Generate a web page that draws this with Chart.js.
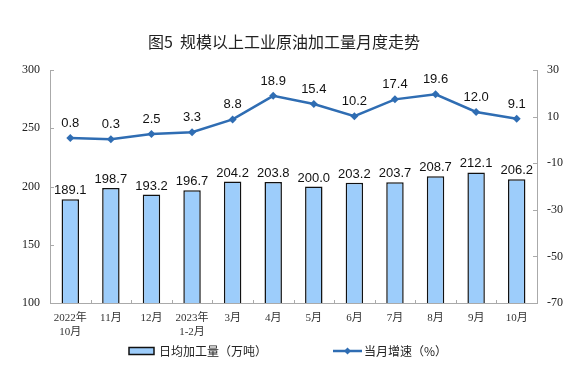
<!DOCTYPE html>
<html><head><meta charset="utf-8">
<script src="https://cdn.jsdelivr.net/npm/chart.js@4/dist/chart.umd.min.js"></script>
<style>html,body{margin:0;padding:0;background:#fff}#wrap{width:576px;height:369px}</style>
</head><body><div id="wrap"><canvas id="c"></canvas></div>
<script>
const title='图5  规模以上工业原油加工量月度走势';
const categories=[['2022年','10月'],'11月','12月',['2023年','1-2月'],'3月','4月','5月','6月','7月','8月','9月','10月'];
const output=[189.1,198.7,193.2,196.7,204.2,203.8,200.0,203.2,203.7,208.7,212.1,206.2];
const growth=[0.8,0.3,2.5,3.3,8.8,18.9,15.4,10.2,17.4,19.6,12.0,9.1];
const barName='日均加工量（万吨）';
const lineName='当月增速（%）';

const lineColor='#2f6db3';
const barFill='#9dcdfb';

const extras={
  id:'extras',
  afterDraw(chart){
    const ctx=chart.ctx, a=chart.chartArea;
    ctx.save();
    // title
    ctx.fillStyle='#222';
    ctx.font='16px "Noto Sans CJK SC", sans-serif';
    ctx.textAlign='center'; ctx.textBaseline='middle';
    ctx.fillText(title,284,42);
    // inner ticks
    ctx.strokeStyle='#aaa'; ctx.lineWidth=1;
    const x=chart.scales.x;
    for(let i=1;i<categories.length;i++){
      const px=Math.round((x.getPixelForValue(i-1)+x.getPixelForValue(i))/2)+0.5;
      ctx.beginPath(); ctx.moveTo(px,a.bottom); ctx.lineTo(px,a.bottom-3); ctx.stroke();
    }
    chart.scales.y.ticks.forEach(t=>{
      const py=Math.round(chart.scales.y.getPixelForValue(t.value))+0.5;
      ctx.beginPath(); ctx.moveTo(a.left,py); ctx.lineTo(a.left+4,py); ctx.stroke();
    });
    chart.scales.y1.ticks.forEach(t=>{
      const py=Math.round(chart.scales.y1.getPixelForValue(t.value))+0.5;
      ctx.beginPath(); ctx.moveTo(a.right,py); ctx.lineTo(a.right-4,py); ctx.stroke();
    });
    // data labels
    ctx.fillStyle='#111';
    ctx.font='13px "Liberation Sans", Arial, sans-serif';
    ctx.textAlign='center'; ctx.textBaseline='bottom';
    chart.getDatasetMeta(0).data.forEach((el,i)=>{
      ctx.fillText(output[i].toFixed(1),el.x,el.y-2);
    });
    chart.getDatasetMeta(1).data.forEach((el,i)=>{
      ctx.fillText(growth[i].toFixed(1),el.x,el.y-8);
    });
    // legend
    const ly=351;
    ctx.fillStyle=barFill; ctx.strokeStyle='#111'; ctx.lineWidth=1.5;
    ctx.fillRect(129,ly-3.5,25,7); ctx.strokeRect(129,ly-3.5,25,7);
    ctx.fillStyle='#222';
    ctx.font='12px "Noto Sans CJK SC", sans-serif';
    ctx.textAlign='left'; ctx.textBaseline='middle';
    ctx.fillText(barName,159,ly);
    ctx.strokeStyle=lineColor; ctx.lineWidth=2.5;
    ctx.beginPath(); ctx.moveTo(333,ly); ctx.lineTo(362,ly); ctx.stroke();
    ctx.fillStyle=lineColor;
    ctx.beginPath(); ctx.moveTo(347.5,ly-3.5); ctx.lineTo(351,ly); ctx.lineTo(347.5,ly+3.5); ctx.lineTo(344,ly); ctx.closePath(); ctx.fill();
    ctx.fillStyle='#222';
    ctx.fillText(lineName,364,ly);
    ctx.restore();
  }
};

new Chart(document.getElementById('c'),{
  data:{
    labels:categories,
    datasets:[
      {type:'bar',label:barName,data:output,yAxisID:'y',backgroundColor:barFill,borderColor:'#111',borderWidth:1.5,
       barPercentage:0.43,categoryPercentage:1,order:2},
      {type:'line',label:lineName,data:growth,yAxisID:'y1',borderColor:lineColor,borderWidth:2.5,backgroundColor:lineColor,
       pointStyle:'rectRot',pointRadius:4,pointBackgroundColor:lineColor,pointBorderWidth:0,tension:0,order:1}
    ]
  },
  options:{
    responsive:true,maintainAspectRatio:false,animation:false,
    layout:{padding:{top:70,bottom:28,left:0,right:0}},
    plugins:{legend:{display:false},tooltip:{enabled:false}},
    scales:{
      x:{
        grid:{display:false,drawTicks:false},
        border:{color:'#aaa'},
        ticks:{color:'#333',font:{family:'"Liberation Serif", "Noto Sans CJK SC", serif',size:11},padding:9,maxRotation:0,autoSkip:false},
        afterFit(s){s.height=38;}
      },
      y:{
        position:'left',min:100,max:300,
        grid:{display:false,drawTicks:false},
        border:{color:'#aaa'},
        ticks:{stepSize:50,color:'#222',font:{family:'"Liberation Serif", serif',size:12},padding:10},
        afterFit(s){s.width=50;}
      },
      y1:{
        position:'right',min:-70,max:30,
        grid:{display:false,drawTicks:false},
        border:{color:'#aaa'},
        ticks:{stepSize:20,color:'#222',font:{family:'"Liberation Serif", serif',size:12},padding:10},
        afterFit(s){s.width=39;}
      }
    }
  },
  plugins:[extras]
});
</script>
</body></html>
